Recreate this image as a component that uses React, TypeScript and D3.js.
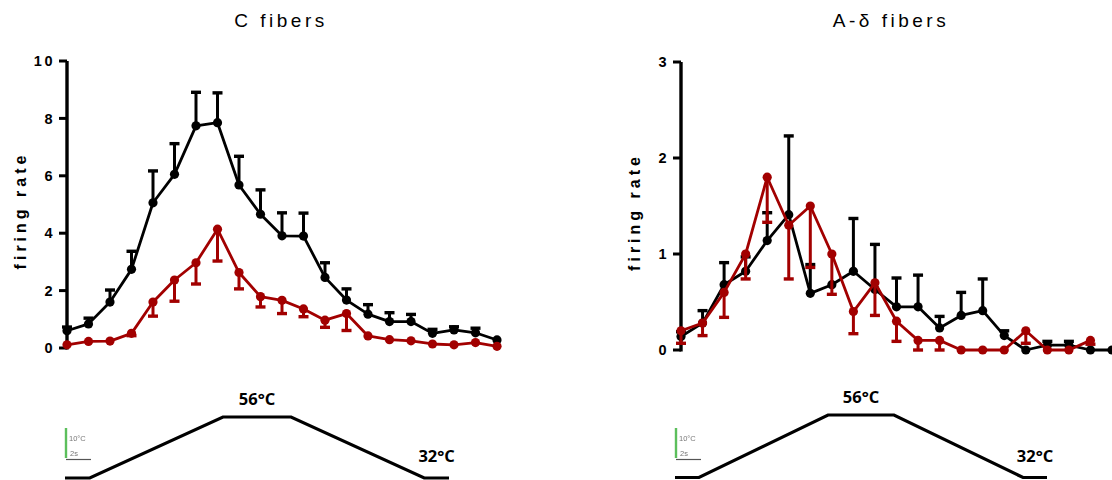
import React from "react";
import * as d3 from "d3";

// Firing rate per time bin (21 bins) during the heat ramp, two groups per fibre class.
const bins = d3.range(21);

const cBlack = [0.6, 0.84, 1.6, 2.74, 5.06, 6.05, 7.74, 7.85, 5.68, 4.66, 3.91, 3.9, 2.46, 1.67, 1.18, 0.92, 0.92, 0.51, 0.63, 0.53, 0.28];
const cBlackErr = [0.13, 0.2, 0.42, 0.63, 1.11, 1.07, 1.17, 1.04, 1.0, 0.85, 0.8, 0.8, 0.51, 0.39, 0.33, 0.31, 0.25, 0.14, 0.11, 0.16, 0];
const cRed = [0.11, 0.23, 0.24, 0.51, 1.6, 2.37, 2.97, 4.14, 2.63, 1.79, 1.66, 1.36, 0.97, 1.2, 0.42, 0.29, 0.25, 0.14, 0.11, 0.19, 0.06];
const cRedErr = [0, 0, 0, 0.08, 0.49, 0.74, 0.74, 1.11, 0.57, 0.36, 0.46, 0.27, 0.25, 0.59, 0, 0, 0, 0, 0, 0, 0];

const aBlack = [0.14, 0.28, 0.68, 0.82, 1.14, 1.41, 0.59, 0.68, 0.82, 0.63, 0.45, 0.45, 0.23, 0.36, 0.41, 0.15, 0, 0.05, 0.05, 0, 0];
const aBlackErr = [0.05, 0.13, 0.23, 0.15, 0.29, 0.82, 0.3, 0, 0.55, 0.47, 0.3, 0.33, 0.12, 0.24, 0.33, 0.05, 0, 0.04, 0.04, 0, 0];
const aRed = [0.2, 0.28, 0.6, 1.0, 1.8, 1.3, 1.5, 1.0, 0.4, 0.7, 0.3, 0.1, 0.1, 0, 0, 0, 0.2, 0, 0, 0.1];
const aRedErr = [0.13, 0.13, 0.26, 0.26, 0.47, 0.56, 0.64, 0.42, 0.23, 0.34, 0.21, 0.1, 0.1, 0, 0, 0, 0.13, 0, 0, 0.04];

const cTicks = [0, 2, 4, 6, 8, 10];
const aTicks = [0, 1, 2, 3];

// Thermal stimulus protocol: time (s) and probe temperature (°C)
const stimTime = [0, 2, 12.75, 18.25, 29, 31];
const stimTemp = [32, 32, 56, 56, 32, 32];

const BLACK = "#000";
const RED = "#a20000";
const SANS = "'Liberation Sans', Arial, sans-serif";

type SeriesProps = {
  values: number[];
  errs: number[];
  color: string;
  dir: 1 | -1;
  x: d3.ScaleLinear<number, number>;
  y: d3.ScaleLinear<number, number>;
};

function Series({ values, errs, color, dir, x, y }: SeriesProps) {
  const line = d3
    .line<number>()
    .x((_, i) => x(bins[i]))
    .y((v) => y(v));
  return (
    <g>
      {values.map((v, i) =>
        errs[i] > 0 ? (
          <g key={"e" + i} stroke={color} strokeWidth={3}>
            <line x1={x(bins[i])} x2={x(bins[i])} y1={y(v)} y2={y(v + dir * errs[i])} />
            <line x1={x(bins[i]) - 5} x2={x(bins[i]) + 5} y1={y(v + dir * errs[i])} y2={y(v + dir * errs[i])} strokeWidth={3.4} />
          </g>
        ) : null
      )}
      <path d={line(values) || ""} fill="none" stroke={color} strokeWidth={2.8} strokeLinejoin="round" />
      {values.map((v, i) => (
        <circle key={"m" + i} cx={x(bins[i])} cy={y(v)} r={4.6} fill={color} />
      ))}
    </g>
  );
}

type PanelProps = {
  title: string;
  titleX: number;
  ticks: number[];
  x: d3.ScaleLinear<number, number>;
  y: d3.ScaleLinear<number, number>;
  labelX: number;
  black: number[];
  blackErr: number[];
  red: number[];
  redErr: number[];
};

function Panel({ title, titleX, ticks, x, y, labelX, black, blackErr, red, redErr }: PanelProps) {
  const x0 = x.range()[0];
  const [yb, yt] = y.range();
  return (
    <g>
      <text x={titleX} y={27} textAnchor="middle" fontFamily={SANS} fontSize={19} letterSpacing={3.5}>
        {title}
      </text>
      <text
        transform={`translate(${labelX},${(yb + yt) / 2 + 6}) rotate(-90)`}
        textAnchor="middle"
        fontFamily={SANS}
        fontWeight="bold"
        fontSize={16}
        letterSpacing={4}
      >
        firing rate
      </text>
      <line x1={x0} x2={x0} y1={yb + 1.5} y2={yt} stroke={BLACK} strokeWidth={3.4} />
      {ticks.map((t) => (
        <g key={t}>
          <line x1={x0 - 8} x2={x0} y1={y(t)} y2={y(t)} stroke={BLACK} strokeWidth={3} />
          <text
            x={x0 - 12}
            y={y(t)}
            dy="0.36em"
            textAnchor="end"
            fontFamily={SANS}
            fontWeight="bold"
            fontSize={14.5}
            letterSpacing={2.5}
          >
            {t}
          </text>
        </g>
      ))}
      <Series values={black} errs={blackErr} color={BLACK} dir={1} x={x} y={y} />
      <Series values={red} errs={redErr} color={RED} dir={-1} x={x} y={y} />
    </g>
  );
}

type StimProps = {
  t: d3.ScaleLinear<number, number>;
  temp: d3.ScaleLinear<number, number>;
  barX: number;
};

function Stimulus({ t, temp, barX }: StimProps) {
  const pts = stimTime.map((s, i) => [t(s), temp(stimTemp[i])] as [number, number]);
  const path = d3.line()(pts) || "";
  const peakX = (t(stimTime[2]) + t(stimTime[3])) / 2;
  const endX = (t(stimTime[4]) + t(stimTime[5])) / 2;
  return (
    <g>
      <path d={path} fill="none" stroke={BLACK} strokeWidth={3.2} strokeLinejoin="miter" />
      <text x={peakX} y={temp(56) - 12} textAnchor="middle" fontFamily="'Open Sans', sans-serif" fontWeight="bold" fontSize={16.5}>
        56°C
      </text>
      <text x={endX} y={temp(32) - 16} textAnchor="middle" fontFamily="'Open Sans', sans-serif" fontWeight="bold" fontSize={16.5}>
        32°C
      </text>
      <g filter="url(#soft)">
        <line x1={barX} x2={barX} y1={428} y2={458} stroke="#5cbf5c" strokeWidth={2.4} />
        <text x={barX + 3} y={441} fontFamily={SANS} fontSize={7.5} fill="#777">
          10°C
        </text>
        <text x={barX + 4} y={456} fontFamily={SANS} fontSize={7.5} fill="#777">
          2s
        </text>
        <line x1={barX} x2={barX + 25} y1={459.5} y2={459.5} stroke="#555" strokeWidth={1.2} />
      </g>
    </g>
  );
}

export default function App() {
  const xC = d3.scaleLinear().domain([0, 20]).range([67, 497]);
  const yC = d3.scaleLinear().domain([0, 10]).range([348, 61]);
  const xA = d3.scaleLinear().domain([0, 20]).range([681, 1112]);
  const yA = d3.scaleLinear().domain([0, 3]).range([350, 62]);

  const tL = d3.scaleLinear().domain([0, 31]).range([65, 449]);
  const tempL = d3.scaleLinear().domain([32, 56]).range([478, 417]);
  const tR = d3.scaleLinear().domain([0, 31]).range([675, 1047]);
  const tempR = d3.scaleLinear().domain([32, 56]).range([477.5, 415]);

  return (
    <div style={{ position: "absolute", left: 0, top: 0 }}>
      <svg width={1112} height={480} style={{ display: "block", background: "#fff" }}>
        <defs>
          <filter id="soft" x="-20%" y="-20%" width="140%" height="140%">
            <feGaussianBlur stdDeviation="0.5" />
          </filter>
        </defs>
        <Panel
          title="C fibers"
          titleX={281}
          ticks={cTicks}
          x={xC}
          y={yC}
          labelX={26}
          black={cBlack}
          blackErr={cBlackErr}
          red={cRed}
          redErr={cRedErr}
        />
        <Panel
          title="A-δ fibers"
          titleX={891}
          ticks={aTicks}
          x={xA}
          y={yA}
          labelX={640}
          black={aBlack}
          blackErr={aBlackErr}
          red={aRed}
          redErr={aRedErr}
        />
        <Stimulus t={tL} temp={tempL} barX={66} />
        <Stimulus t={tR} temp={tempR} barX={676} />
      </svg>
    </div>
  );
}
